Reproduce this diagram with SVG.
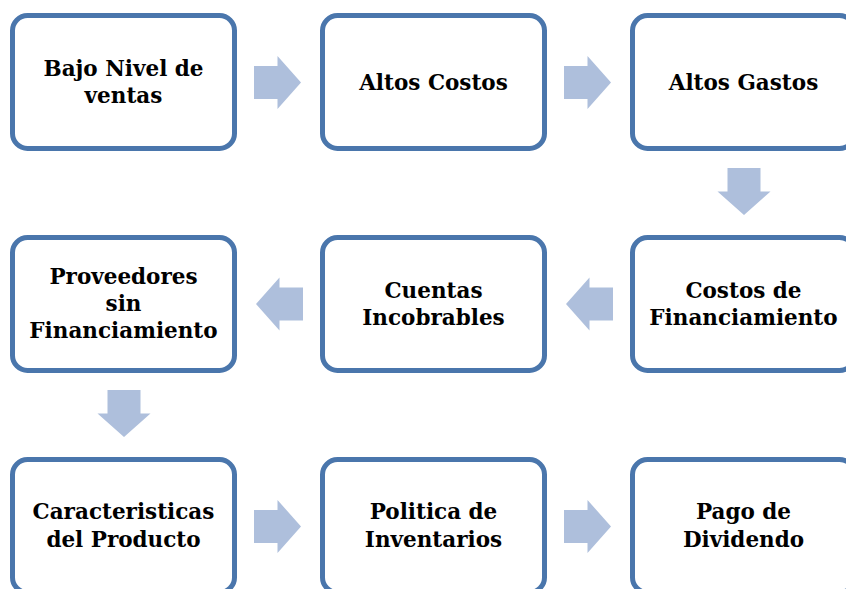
<svg xmlns="http://www.w3.org/2000/svg" width="846" height="589" viewBox="0 0 846 589">
<style>
.box{fill:#ffffff;stroke:#4A76AC;stroke-width:5}
.arr{fill:#AEBFDC}
text{font-family:"DejaVu Serif","Liberation Serif",serif;font-weight:bold;font-size:21.5px;fill:#000;text-anchor:middle}
</style>
<defs>
<path id="ar" d="M-23.5,-16.5 H0 V-26.5 L23.5,0 L0,26.5 V16.5 H-23.5 Z"/>
</defs>
<rect width="846" height="589" fill="#fff"/>
<g id="connectors">
<use href="#ar" class="arr" transform="translate(277.5,82.5)"/>
<use href="#ar" class="arr" transform="translate(587.5,82.5)"/>
<use href="#ar" class="arr" transform="translate(744,191.5) rotate(90)"/>
<use href="#ar" class="arr" transform="translate(589.5,304) rotate(180)"/>
<use href="#ar" class="arr" transform="translate(279.5,304) rotate(180)"/>
<use href="#ar" class="arr" transform="translate(124,413.5) rotate(90)"/>
<use href="#ar" class="arr" transform="translate(277.5,526.5)"/>
<use href="#ar" class="arr" transform="translate(587.5,526.5)"/>
</g>
<g id="n1"><rect class="box" x="12.5" y="15.5" width="222" height="133" rx="15"/><text x="123.5" y="76">Bajo Nivel de</text><text x="123.5" y="103">ventas</text></g>
<g id="n2"><rect class="box" x="322.5" y="15.5" width="222" height="133" rx="15"/><text x="433.5" y="90">Altos Costos</text></g>
<g id="n3"><rect class="box" x="632.5" y="15.5" width="222" height="133" rx="15"/><text x="743.5" y="90">Altos Gastos</text></g>
<g id="n4"><rect class="box" x="632.5" y="237.5" width="222" height="133" rx="15"/><text x="743.5" y="298">Costos de</text><text x="743.5" y="325">Financiamiento</text></g>
<g id="n5"><rect class="box" x="322.5" y="237.5" width="222" height="133" rx="15"/><text x="433.5" y="298">Cuentas</text><text x="433.5" y="325">Incobrables</text></g>
<g id="n6"><rect class="box" x="12.5" y="237.5" width="222" height="133" rx="15"/><text x="123.5" y="284">Proveedores</text><text x="123.5" y="311">sin</text><text x="123.5" y="338">Financiamiento</text></g>
<g id="n7"><rect class="box" x="12.5" y="459.5" width="222" height="133" rx="15"/><text x="123.5" y="519">Caracteristicas</text><text x="123.5" y="547">del Producto</text></g>
<g id="n8"><rect class="box" x="322.5" y="459.5" width="222" height="133" rx="15"/><text x="433.5" y="519">Politica de</text><text x="433.5" y="547">Inventarios</text></g>
<g id="n9"><rect class="box" x="632.5" y="459.5" width="222" height="133" rx="15"/><text x="743.5" y="519">Pago de</text><text x="743.5" y="547">Dividendo</text></g>
</svg>
